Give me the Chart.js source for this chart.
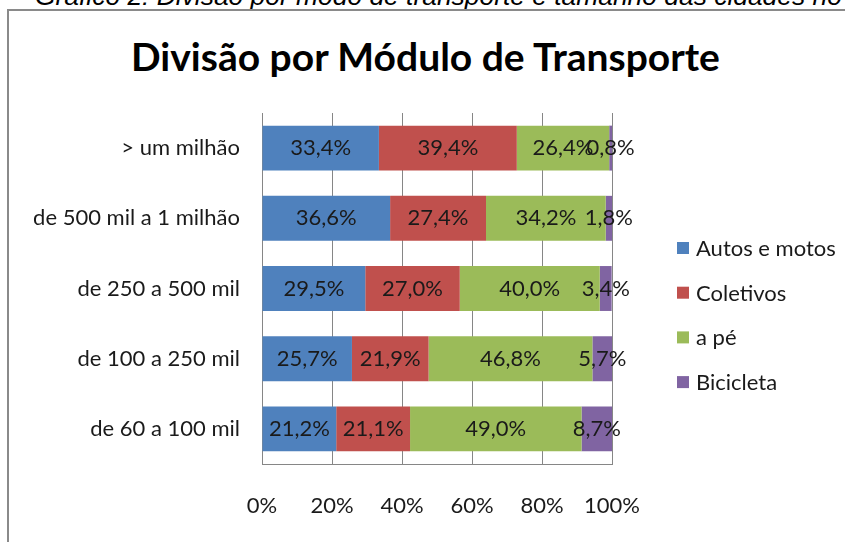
<!DOCTYPE html>
<html>
<head>
<meta charset="utf-8">
<script src="https://cdn.jsdelivr.net/npm/chart.js@4.4.1/dist/chart.umd.min.js"></script>
<style>
  html, body { margin: 0; padding: 0; background: #fff; overflow: hidden; }
  body { width: 845px; height: 542px; position: relative; }
  .caption {
    position: absolute; left: 35px; top: -17px; white-space: nowrap;
    font: italic 26.4px/27px 'Liberation Sans', Arial, sans-serif; color: #000;
  }
  .frame {
    position: absolute; left: 7px; top: 9px; width: 900px; height: 600px;
    border: 2px solid #8a8a8a;
  }
  .title {
    position: absolute; left: 0; width: 851px; top: 37px; text-align: center;
    font: bold 39px/39px Lato, sans-serif; color: #000; white-space: nowrap;
  }
  #chart { position: absolute; left: 0; top: 0; }
</style>
</head>
<body>
<div class="caption">Gráfico 2: Divisão por modo de transporte e tamanho das cidades no Brasil</div>
<div class="frame"></div>
<div class="title">Divisão por Módulo de Transporte</div>
<canvas id="chart" width="845" height="542"></canvas>
<script>
const categories = ['> um milhão', 'de 500 mil a 1 milhão', 'de 250 a 500 mil', 'de 100 a 250 mil', 'de 60 a 100 mil']
const seriesNames = ['Autos e motos', 'Coletivos', 'a pé', 'Bicicleta']
const autos = [33.4, 36.6, 29.5, 25.7, 21.2]
const coletivos = [39.4, 27.4, 27.0, 21.9, 21.1]
const aPe = [26.4, 34.2, 40.0, 46.8, 49.0]
const bicicleta = [0.8, 1.8, 3.4, 5.7, 8.7]
const xTicks = [0, 20, 40, 60, 80, 100]

const colors = ['#4F81BD', '#C0504D', '#9BBB59', '#8064A2']
const font = 'Lato, sans-serif'
const textSize = 22

// value labels in the middle of each segment
const segmentLabels = {
  id: 'segmentLabels',
  afterDatasetsDraw(chart) {
    const ctx = chart.ctx
    ctx.save()
    ctx.font = textSize + 'px ' + font
    ctx.fillStyle = '#1a1a1a'
    ctx.textAlign = 'center'
    ctx.textBaseline = 'middle'
    chart.data.datasets.forEach((ds, i) => {
      chart.getDatasetMeta(i).data.forEach((bar, j) => {
        const p = bar.getCenterPoint()
        ctx.fillText(ds.data[j].toFixed(1).replace('.', ',') + '%', p.x, p.y)
      })
    })
    ctx.restore()
  }
}

// legend on the right, Excel style
const sideLegend = {
  id: 'sideLegend',
  afterDraw(chart) {
    const ctx = chart.ctx
    ctx.save()
    ctx.font = textSize + 'px ' + font
    ctx.textBaseline = 'middle'
    chart.data.datasets.forEach((ds, i) => {
      const y = 248 + i * 44.7
      ctx.fillStyle = ds.backgroundColor
      ctx.fillRect(677, y - 6, 12, 12)
      ctx.fillStyle = '#1a1a1a'
      ctx.fillText(ds.label, 696, y + 1)
    })
    ctx.restore()
  }
}

const chart = document.querySelector('#chart').getContext('2d')

new Chart(chart, {
  type: 'bar',
  data: {
    labels: categories,
    datasets: [autos, coletivos, aPe, bicicleta].map((d, i) => ({
      label: seriesNames[i],
      data: d,
      backgroundColor: colors[i],
      barPercentage: 0.64,
      categoryPercentage: 1
    }))
  },
  options: {
    indexAxis: 'y',
    responsive: false,
    animation: false,
    layout: { padding: { left: 0, right: 233, top: 113, bottom: 0 } },
    plugins: {
      legend: { display: false },
      tooltip: { enabled: false }
    },
    scales: {
      x: {
        stacked: true,
        min: 0,
        max: 100,
        afterBuildTicks: axis => { axis.ticks = xTicks.map(v => ({ value: v })) },
        afterFit: axis => { axis.height = 78 },
        grid: { color: '#868686', drawTicks: false },
        border: { color: '#868686' },
        ticks: {
          padding: 29,
          color: '#1a1a1a',
          font: { family: font, size: textSize },
          callback: v => v + '%'
        }
      },
      y: {
        stacked: true,
        afterFit: axis => { axis.width = 262 },
        grid: { display: false, drawTicks: false },
        border: { color: '#868686' },
        ticks: {
          padding: 22,
          color: '#1a1a1a',
          font: { family: font, size: textSize }
        }
      }
    }
  },
  plugins: [segmentLabels, sideLegend]
})
</script>
</body>
</html>
